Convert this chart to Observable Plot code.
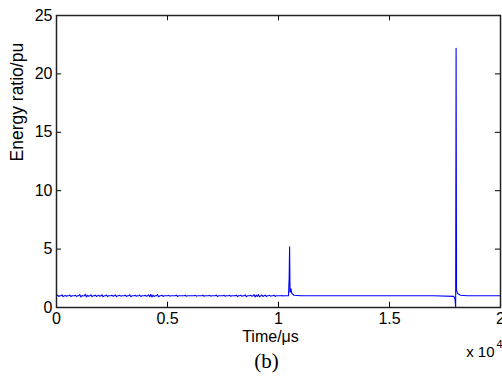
<!DOCTYPE html>
<html><head><meta charset="utf-8">
<script src="https://cdn.jsdelivr.net/npm/d3@7"></script>
<script src="https://cdn.jsdelivr.net/npm/@observablehq/plot@0.6"></script>
<style>body{margin:0;background:#fff}</style>
</head><body><div id="chart"></div>
<script>
// noisy segment, sampled every 50 μs from 0 to 10400
const noiseStep = 50;
const noiseValues = [
1.0,1.06,0.94,1.0,1.0,1.08,0.93,1.0,1.02,0.97,1.0,1.0,1.07,0.94,1.0,1.0,1.0,1.05,0.95,1.0,
1.0,1.1,0.9,1.03,0.98,1.0,1.12,0.9,1.05,0.96,1.0,1.08,0.93,1.0,1.0,1.06,0.95,1.0,1.04,0.96,
1.0,1.09,0.92,1.0,1.0,1.07,0.94,1.0,1.0,1.0,1.05,0.96,1.0,1.08,0.93,1.0,1.0,1.04,0.97,1.0,
1.0,1.0,1.06,0.95,1.0,1.0,1.09,0.92,1.0,1.0,1.0,1.04,0.96,1.0,1.0,1.07,0.94,1.0,1.0,1.0,
1.05,0.96,1.0,1.08,0.92,1.12,0.9,1.06,0.95,1.0,1.0,1.1,0.91,1.0,1.0,1.05,0.95,1.0,1.0,1.0,
1.0,1.04,0.97,1.0,1.0,1.0,1.0,1.0,1.06,0.95,1.0,1.0,1.0,1.0,1.0,1.0,1.05,0.96,1.0,1.0,
1.0,1.0,1.0,1.0,1.0,1.04,0.97,1.0,1.0,1.0,1.0,1.0,1.05,0.96,1.0,1.0,1.0,1.0,1.04,0.97,
1.0,1.0,1.0,1.0,1.06,0.95,1.0,1.0,1.0,1.0,1.0,1.05,0.96,1.0,1.0,1.0,1.04,0.96,1.0,1.0,
1.0,1.0,1.06,0.94,1.0,1.0,1.05,0.96,1.0,1.0,1.08,0.92,1.0,1.0,1.0,1.05,0.96,1.0,1.1,0.9,
1.06,0.95,1.1,0.91,1.0,1.07,0.94,1.0,1.06,0.95,1.0,1.0,1.04,0.97,1.0,1.0,1.05,0.95,1.0,1.0,
1.0,1.0,1.0,1.03,0.98,1.0,1.0,1.0,1.0];
// transient events
const eventTimes  = [10450,10480,10500,10520,10560,10600,10700,11000,17000,17900,17950,17980,18000,18020,18060,18200,18500,20000];
const eventValues = [1.0,  2.5,  5.2,  1.3,  1.6,  1.2,  1.05, 1.0,  1.0,  0.95, 0.7,  0.0,  22.2, 1.5,  1.2,  1.05, 1.0,  1.0];
const xTicks = [0, 5000, 10000, 15000, 20000];
const yTicks = [0, 5, 10, 15, 20, 25];

const data = noiseValues.map((v, i) => ({t: i * noiseStep, v}))
  .concat(eventTimes.map((t, i) => ({t, v: eventValues[i]})));

const font = "Liberation Sans, Arial, sans-serif";
const plot = Plot.plot({
  width: 502, height: 385,
  marginLeft: 56, marginRight: 2, marginTop: 15, marginBottom: 78,
  style: {fontFamily: font, fontSize: "16px", color: "#000", background: "#fff"},
  x: {domain: [0, 20000], ticks: xTicks, tickFormat: d => d / 1e4, label: null, tickSize: 0, tickPadding: 5},
  y: {domain: [0, 25], ticks: yTicks, label: null, tickSize: 0, tickPadding: 4},
  marks: [
    Plot.line(data, {x: "t", y: "v", stroke: "#0000ff", strokeWidth: 1.1}),
    Plot.ruleY(yTicks, {x1: 0, x2: 230, stroke: "#000"}),
    Plot.ruleY(yTicks, {x1: 19770, x2: 20000, stroke: "#000"}),
    Plot.ruleX(xTicks, {y1: 0, y2: 0.45, stroke: "#000"}),
    Plot.ruleX(xTicks, {y1: 24.55, y2: 25, stroke: "#000"}),
    Plot.frame({stroke: "#222", strokeWidth: 1.5}),
    Plot.text(["Energy ratio/pu"], {frameAnchor: "left", rotate: -90, dx: -39, fontSize: 17.5, fill: "#000"}),
    Plot.text(["Time/μs"], {frameAnchor: "bottom", dx: -8, dy: 34, fontSize: 16, fill: "#000"}),
    Plot.text(["x 10"], {frameAnchor: "bottom-right", dx: -6, dy: 49, fontSize: 15, fill: "#000"}),
    Plot.text(["4"], {frameAnchor: "bottom-right", dx: 2, dy: 40, fontSize: 11, fill: "#000"}),
    Plot.text(["(b)"], {frameAnchor: "bottom", dx: -12, dy: 60, fontSize: 21, fill: "#000", fontFamily: "Liberation Serif, Times New Roman, serif"})
  ]
});
document.getElementById("chart").appendChild(plot);
</script></body></html>
